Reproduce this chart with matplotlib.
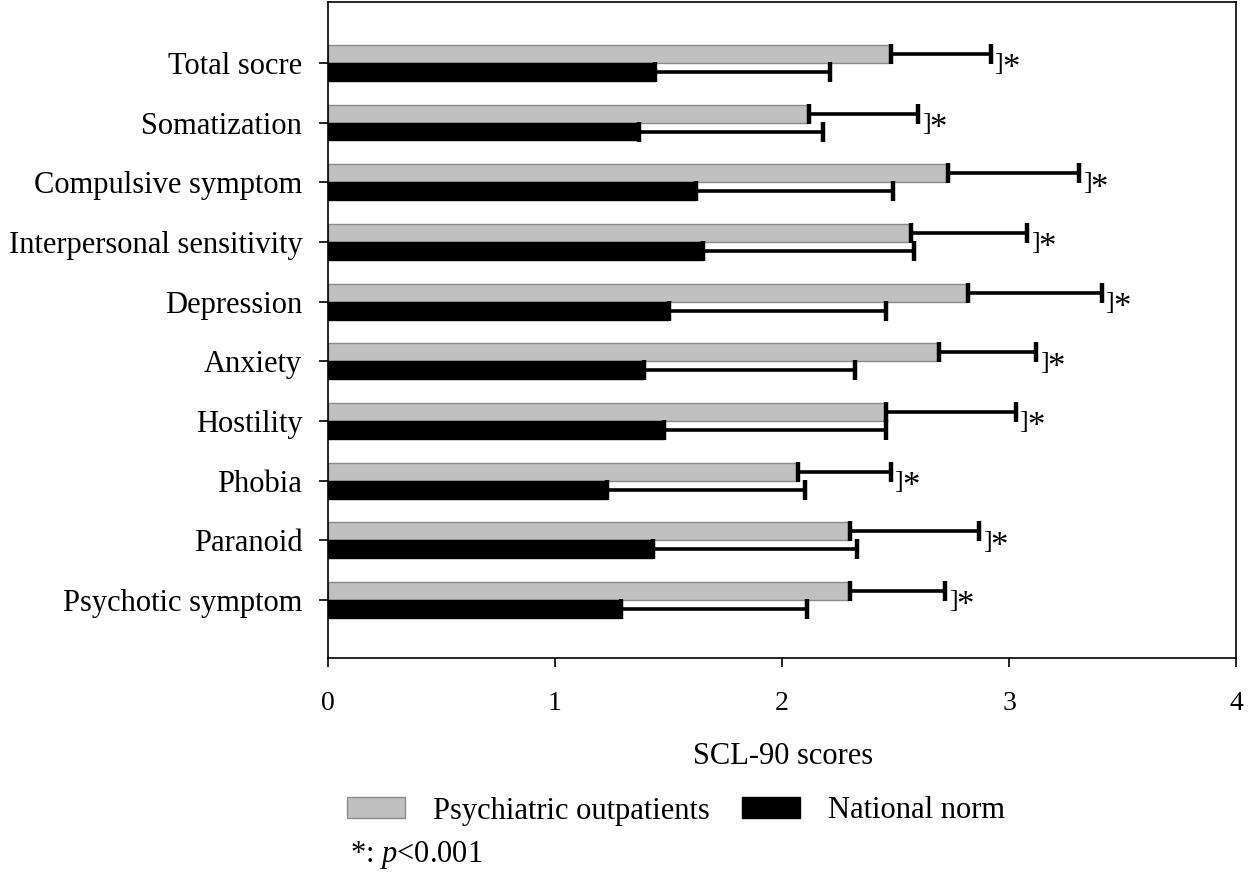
import numpy as np
import matplotlib
matplotlib.use("Agg")
import matplotlib.pyplot as plt
import matplotlib.patches as patches

categories = ["Total socre", "Somatization", "Compulsive symptom", "Interpersonal sensitivity",
              "Depression", "Anxiety", "Hostility", "Phobia", "Paranoid", "Psychotic symptom"]
patients_mean = [2.48, 2.12, 2.73, 2.57, 2.82, 2.69, 2.46, 2.07, 2.30, 2.30]
patients_err = [0.44, 0.48, 0.58, 0.51, 0.59, 0.43, 0.57, 0.41, 0.57, 0.42]
norm_mean = [1.44, 1.37, 1.62, 1.65, 1.50, 1.39, 1.48, 1.23, 1.43, 1.29]
norm_err = [0.77, 0.81, 0.87, 0.93, 0.96, 0.93, 0.98, 0.87, 0.90, 0.82]
xticks = [0, 1, 2, 3, 4]

plt.rcParams['font.family'] = ['Liberation Serif', 'DejaVu Serif']
plt.rcParams['mathtext.fontset'] = 'custom'
plt.rcParams['mathtext.rm'] = 'Liberation Serif'
plt.rcParams['mathtext.it'] = 'Liberation Serif:italic'

fig = plt.figure(figsize=(12.5, 8.76), dpi=100)
ax = fig.add_axes([0.2624, 0.2489, 0.7264, 0.7488])

idx = np.arange(len(categories))
h = 0.3
grey = '#c0c0c0'

#bars, grey on top of each pair
ax.barh(idx - h/2, patients_mean, height=h, color=grey, edgecolor='#8a8a8a', linewidth=1, zorder=2)
ax.barh(idx + h/2, norm_mean, height=h, color='black', edgecolor='black', linewidth=1, zorder=2)

#one sided error bars
zeros = np.zeros(len(idx))
ax.errorbar(patients_mean, idx - h/2, xerr=[zeros, patients_err], fmt='none',
            ecolor='black', elinewidth=2.6, capsize=7, capthick=3.2, zorder=3)
ax.errorbar(norm_mean, idx + h/2, xerr=[zeros, norm_err], fmt='none',
            ecolor='black', elinewidth=2.6, capsize=7, capthick=3.2, zorder=3)

#significance marks
for i in idx:
    xe = patients_mean[i] + patients_err[i]
    ax.annotate("]", xy=(xe, i + 0.02), xytext=(2.5, 0), textcoords='offset points',
                ha='left', va='center', fontsize=19)
    ax.annotate("*", xy=(xe, i + 0.02), xytext=(8, -4), textcoords='offset points',
                ha='left', va='center', fontsize=25)

ax.set_xlim(0, 4)
ax.set_ylim(9.97, -1.02)
ax.set_xticks(xticks)
ax.set_xticklabels([str(t) for t in xticks], fontsize=20)
ax.set_yticks(idx)
ax.set_yticklabels(categories, fontsize=22)
ax.tick_params(axis='both', direction='out', length=6.5, width=1.2, color='black')
ax.tick_params(axis='x', pad=17)
ax.tick_params(axis='y', pad=12)
for s in ax.spines.values():
    s.set_linewidth(1.2)

fig.text(783/1250, 1 - 757/876, "SCL-90 scores", ha='center', va='center', fontsize=22)

handles = [patches.Patch(facecolor=grey, edgecolor='#8a8a8a', label="Psychiatric outpatients"),
           patches.Patch(facecolor='black', edgecolor='black', label="National norm")]
fig.legend(handles=handles, loc='center left', bbox_to_anchor=(347/1250, 1 - 811/876), ncol=2,
           frameon=False, fontsize=22, handlelength=1.9, handleheight=0.69,
           handletextpad=0.92, columnspacing=1.05, borderpad=0, borderaxespad=0)

fig.text(350/1250, 1 - 855/876, r"*: $\it{p}$<0.001", ha='left', va='center', fontsize=22)

fig.savefig("out.png", dpi=100)
